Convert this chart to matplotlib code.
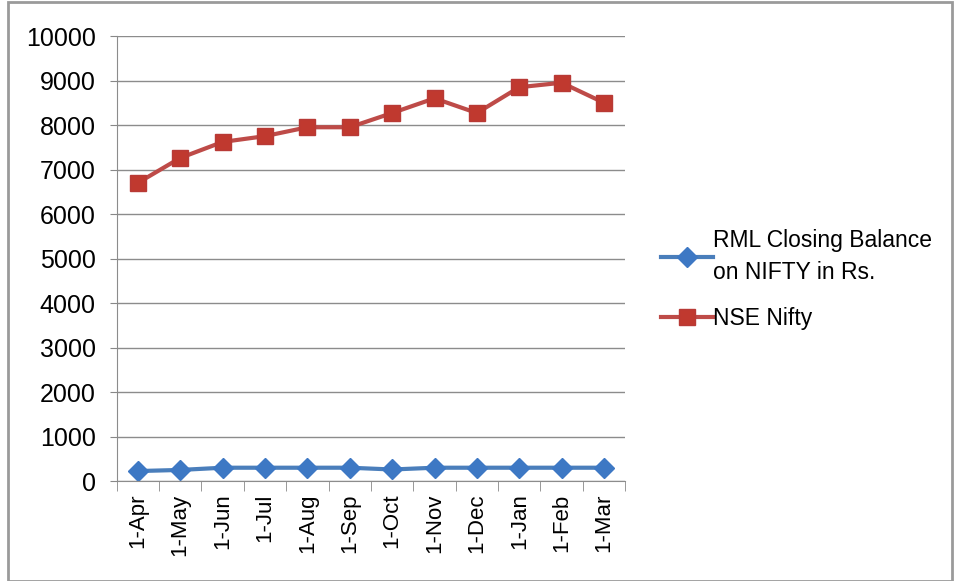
import matplotlib
matplotlib.use("Agg")
import matplotlib.pyplot as plt
from matplotlib.patches import Rectangle

months = ["1-Apr", "1-May", "1-Jun", "1-Jul", "1-Aug", "1-Sep",
          "1-Oct", "1-Nov", "1-Dec", "1-Jan", "1-Feb", "1-Mar"]
rml = [225, 250, 300, 300, 300, 300, 260, 300, 300, 300, 300, 300]
nifty = [6700, 7260, 7620, 7750, 7950, 7950, 8270, 8600, 8270, 8850, 8950, 8500]
yticks = list(range(0, 10001, 1000))

plt.rcParams['font.family'] = ['Liberation Sans', 'DejaVu Sans']

fig = plt.figure(figsize=(9.56, 5.81), dpi=100)
ax = fig.add_axes([0.122, 0.172, 0.532, 0.766])

x = list(range(len(months)))
ax.plot(x, rml, color="#4a7ebb", lw=3, marker="D", ms=10, mfc="#3d78c4", mec="#3d78c4",
        label="RML Closing Balance\non NIFTY in Rs.")
ax.plot(x, nifty, color="#be4b48", lw=3, marker="s", ms=12, mfc="#c0392f", mec="#b83a36",
        label="NSE Nifty")

ax.set_xlim(-0.5, len(months) - 0.5)
ax.set_ylim(0, 10000)
ax.set_yticks(yticks)
ax.set_yticklabels([str(v) for v in yticks], fontsize=18)
ax.set_xticks(x)
ax.set_xticklabels(months, rotation=90, fontsize=16)
ax.set_xticks([i - 0.5 for i in range(len(months) + 1)], minor=True)
ax.tick_params(axis="x", which="major", length=0, pad=9)
ax.tick_params(axis="x", which="minor", length=7, color="#888888")
ax.tick_params(axis="y", length=5, color="#888888", pad=10)

ax.grid(axis="y", color="#8c8c8c", lw=1)
ax.set_axisbelow(True)
for s in ["top", "right"]:
    ax.spines[s].set_visible(False)
ax.spines["left"].set_color("#8c8c8c")
ax.spines["bottom"].set_color("#8c8c8c")

leg = ax.legend(loc="center left", bbox_to_anchor=(1.0, 0.453), frameon=False,
                fontsize=16.5, handlelength=2.3, handletextpad=0.0,
                labelspacing=1.0, borderaxespad=1.15)
for t in leg.get_texts():
    t.set_linespacing(1.5)

fig.patches.append(Rectangle((0.008, 0.0), 0.988, 0.996, transform=fig.transFigure,
                             fill=False, ec="#9a9a9a", lw=2))

fig.savefig("out.png", dpi=100)
